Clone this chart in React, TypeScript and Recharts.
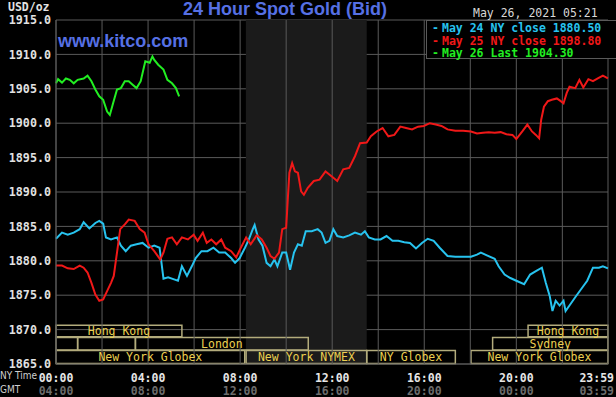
import React from "react";
import {
  LineChart,
  Line,
  XAxis,
  YAxis,
  CartesianGrid,
  ReferenceLine,
  ReferenceArea,
} from "recharts";

// Hours since NY midnight, prices
const may24Hours = [
  0, 0.26, 0.51, 0.77, 1.03, 1.2, 1.45, 1.71, 1.88, 2.05, 2.17, 2.39, 2.65, 2.82, 3.03, 3.25, 3.5,
  3.76, 4.02, 4.27, 4.5, 4.67, 4.87, 5.13, 5.3, 5.47, 5.69, 5.9, 6.07, 6.32, 6.58, 6.84, 7.09,
  7.35, 7.61, 7.78, 7.98, 8.21, 8.38, 8.55, 8.63, 8.8, 8.97, 9.15, 9.32, 9.49, 9.62, 9.83, 10.0,
  10.17, 10.34, 10.51, 10.68, 10.85, 11.11, 11.37, 11.54, 11.71, 11.88, 12.05, 12.22, 12.48,
  12.74, 12.99, 13.25, 13.42, 13.59, 13.85, 14.1, 14.36, 14.62, 14.87, 15.13, 15.38, 15.64,
  15.9, 16.15, 16.41, 16.67, 17.01, 17.35, 17.69, 18.03, 18.29, 18.46, 18.72, 19.06, 19.23,
  19.49, 19.74, 20.0, 20.34, 20.6, 20.85, 21.11, 21.28, 21.45, 21.57, 21.71, 21.88, 22.05,
  22.14, 22.31, 22.56, 22.82, 23.08, 23.33, 23.59, 23.76, 23.98,
];
const may24Prices = [
  1883.2, 1884.1, 1883.8, 1884.1, 1884.6, 1885.6, 1884.7, 1885.5, 1885.8, 1885.4, 1883.4, 1883.1,
  1883.4, 1882.2, 1881.4, 1882.2, 1882.4, 1882.6, 1881.9, 1882.2, 1881.9, 1877.4, 1877.6, 1877.3,
  1877.1, 1879.2, 1877.8, 1879.2, 1880.4, 1881.4, 1881.4, 1881.9, 1881.2, 1881.2, 1880.4, 1879.7,
  1880.4, 1881.9, 1883.1, 1884.6, 1885.2, 1883.1, 1882.2, 1879.7, 1879.2, 1880.2, 1879.2, 1881.2,
  1881.2, 1878.7, 1881.2, 1882.4, 1882.2, 1884.3, 1884.3, 1884.6, 1884.1, 1882.6, 1882.9, 1884.6,
  1883.6, 1883.4, 1883.7, 1884.1, 1883.8, 1884.3, 1883.4, 1883.1, 1883.1, 1883.6, 1882.9, 1882.9,
  1882.7, 1882.6, 1881.8, 1882.6, 1883.2, 1882.9, 1881.9, 1880.7, 1880.6, 1880.6, 1880.6, 1880.9,
  1881.2, 1880.8, 1880.3, 1879.2, 1878.0, 1877.5, 1877.1, 1876.6, 1878.0, 1878.5, 1879.0, 1876.8,
  1874.9, 1872.7, 1874.2, 1873.5, 1874.2, 1872.7, 1873.5, 1874.7, 1875.9, 1877.1, 1879.0, 1879.0,
  1879.2, 1878.9,
];

const may25Hours = [
  0, 0.26, 0.51, 0.77, 1.03, 1.2, 1.37, 1.54, 1.71, 1.88, 2.05, 2.22, 2.39, 2.51, 2.65, 2.79,
  2.99, 3.16, 3.42, 3.64, 3.85, 4.02, 4.27, 4.53, 4.67, 4.84, 5.04, 5.25, 5.47, 5.73, 5.98, 6.15,
  6.38, 6.55, 6.75, 6.96, 7.18, 7.35, 7.61, 7.83, 8.03, 8.26, 8.46, 8.72, 8.94, 9.15, 9.32, 9.49,
  9.69, 9.83, 10.0, 10.07, 10.14, 10.26, 10.38, 10.51, 10.65, 10.77, 10.94, 11.2, 11.45, 11.71,
  11.97, 12.22, 12.48, 12.74, 12.99, 13.21, 13.5, 13.68, 13.93, 14.19, 14.44, 14.7, 14.96, 15.21,
  15.47, 15.73, 15.98, 16.24, 16.5, 16.75, 17.01, 17.35, 17.69, 18.03, 18.29, 18.55, 18.8, 19.06,
  19.32, 19.57, 19.83, 20.0, 20.26, 20.48, 20.68, 20.85, 20.99, 21.08, 21.2, 21.37, 21.54, 21.76,
  21.93, 22.05, 22.19, 22.31, 22.56, 22.74, 22.91, 23.13, 23.33, 23.54, 23.76, 23.98,
];
const may25Prices = [
  1879.3, 1879.3, 1878.9, 1878.8, 1879.3, 1879.0, 1878.3, 1876.8, 1875.1, 1874.2, 1874.4, 1875.6,
  1876.8, 1877.8, 1881.2, 1884.6, 1885.3, 1886.0, 1885.8, 1884.6, 1884.1, 1882.4, 1881.4, 1880.2,
  1881.2, 1883.2, 1883.4, 1882.4, 1883.4, 1883.1, 1883.8, 1882.9, 1884.1, 1882.6, 1883.1, 1882.4,
  1883.1, 1881.9, 1881.4, 1880.5, 1881.9, 1883.4, 1882.4, 1883.7, 1883.1, 1881.9, 1880.7, 1880.3,
  1881.2, 1884.6, 1884.8, 1888.9, 1892.8, 1894.2, 1893.0, 1892.8, 1890.1, 1889.6, 1890.6, 1891.6,
  1891.8, 1893.0, 1892.3, 1891.6, 1893.3, 1893.5, 1895.2, 1897.1, 1897.2, 1898.1, 1898.8, 1899.3,
  1898.1, 1898.3, 1899.5, 1899.3, 1899.1, 1899.5, 1899.6, 1900.0, 1899.8, 1899.6, 1899.1, 1898.9,
  1898.9, 1898.8, 1898.5, 1898.6, 1898.7, 1898.6, 1898.7, 1898.4, 1898.3, 1897.7, 1898.8, 1899.8,
  1898.8, 1898.3, 1897.8, 1900.5, 1902.4, 1903.2, 1903.4, 1903.6, 1903.2, 1902.9, 1904.4, 1905.3,
  1905.1, 1906.3, 1905.2, 1906.4, 1906.1, 1906.5, 1906.9, 1906.5,
];

const may26Hours = [
  0, 0.09, 0.26, 0.43, 0.6, 0.77, 0.94, 1.2, 1.37, 1.54, 1.71, 1.88, 2.05, 2.22, 2.34, 2.48, 2.65,
  2.82, 2.99, 3.16, 3.33, 3.5, 3.68, 3.88, 4.07, 4.19, 4.27, 4.44, 4.67, 4.84, 5.04, 5.21, 5.35,
];
const may26Prices = [
  1905.8, 1906.4, 1905.9, 1906.5, 1906.3, 1905.8, 1906.3, 1906.5, 1906.9, 1906.1, 1904.9, 1903.9,
  1903.4, 1901.7, 1901.2, 1902.9, 1904.9, 1905.1, 1906.1, 1906.1, 1905.6, 1905.1, 1906.1, 1909.0,
  1908.8, 1909.7, 1909.2, 1908.5, 1907.8, 1906.3, 1905.8, 1905.1, 1903.9,
];

const priceTicks = [1865, 1870, 1875, 1880, 1885, 1890, 1895, 1900, 1905, 1910, 1915];
const timeTicks = [0, 4, 8, 12, 16, 20, 23.983];
const nyTimeLabels = ["00:00", "04:00", "08:00", "12:00", "16:00", "20:00", "23:59"];
const gmtTimeLabels = ["04:00", "08:00", "12:00", "16:00", "20:00", "00:00", "03:59"];
const gridHours = [0, 2, 4, 6, 8, 10, 12, 14, 16, 18, 20, 22, 23.983];

// NY pit session shading
const pitOpen = 8.25;
const pitClose = 13.5;

// Market sessions (hours, NY time) and the row they sit in
const sessionNames = [
  "Hong Kong", "Hong Kong",
  "", "", "London", "Sydney",
  "New York Globex", "New York NYMEX", "NY Globex", "New York Globex",
];
const sessionStarts = [0, 20.51, 0, 0.94, 3.45, 18.97, 0, 8.26, 13.5, 18.03];
const sessionEnds = [5.47, 23.98, 0.94, 3.45, 10.96, 23.98, 8.2, 13.5, 17.35, 23.98];
const sessionRows = [0, 0, 1, 1, 1, 1, 2, 2, 2, 2];

const legendLabels = ["May 24 NY close 1880.50", "May 25 NY close 1898.80", "May 26 Last 1904.30"];

const MONO = "'DejaVu Sans Mono', 'Liberation Mono', monospace";
const SANS = "'Liberation Sans', Arial, sans-serif";
const NARROW = "'DejaVu Sans Condensed', 'DejaVu Sans', sans-serif";
const C24 = "#27c3ef";
const C25 = "#f01818";
const C26 = "#22ee22";
const GRID = "#5a5a5a";
const GOLD = "#ecd050";
const BOX = "#b3ac7c";
const TITLE_BLUE = "#5670e4";

const ROW_BANDS: [number, number][] = [
  [1868.95, 1870.65],
  [1867.05, 1868.85],
  [1865.08, 1866.95],
];

const toRows = (hours: number[], prices: number[]) =>
  hours.map((h, i) => ({ h, p: prices[i] }));

function TimeTick(props: any) {
  const { x, y, payload } = props;
  const i = timeTicks.indexOf(payload.value);
  const last = i === timeTicks.length - 1;
  const tx = last ? x + 6 : x;
  const anchor = last ? "end" : "middle";
  return (
    <g>
      <text x={tx} y={y + 16} textAnchor={anchor} fill="#e6e6e6" fontSize={11.5} fontWeight="bold" fontFamily={MONO}>
        {nyTimeLabels[i]}
      </text>
      <text x={tx} y={y + 29} textAnchor={anchor} fill="#6c6c6c" fontSize={11.5} fontWeight="bold" fontFamily={MONO}>
        {gmtTimeLabels[i]}
      </text>
    </g>
  );
}

export default function App() {
  const d24 = toRows(may24Hours, may24Prices);
  const d25 = toRows(may25Hours, may25Prices);
  const d26 = toRows(may26Hours, may26Prices);
  const colors = [C24, C25, C26];

  return (
    <div style={{ position: "absolute", left: 0, top: 0, width: 616, height: 397, background: "#000", overflow: "hidden" }}>
      <LineChart width={616} height={397} margin={{ top: 20, right: 8, left: 0, bottom: 0 }}>
        <ReferenceArea x1={pitOpen} x2={pitClose} y1={1865} y2={1915} fill="#1b1b1b" fillOpacity={1} stroke="none" />
        <CartesianGrid vertical={false} stroke={GRID} strokeWidth={1} />
        {gridHours.map((h) => (
          <ReferenceLine key={h} x={h} stroke={GRID} strokeWidth={1} />
        ))}
        <XAxis
          dataKey="h"
          type="number"
          domain={[0, 23.983]}
          ticks={timeTicks}
          allowDuplicatedCategory={false}
          height={33}
          axisLine={{ stroke: GRID }}
          tickLine={false}
          tickSize={0}
          tick={<TimeTick />}
          interval={0}
        />
        <YAxis
          type="number"
          domain={[1865, 1915]}
          ticks={priceTicks}
          width={56}
          axisLine={{ stroke: GRID }}
          tickLine={false}
          tickSize={0}
          tickMargin={5}
          interval={0}
          tick={{ fill: "#e2e2e2", fontSize: 11.7, fontFamily: MONO, fontWeight: "bold" }}
          tickFormatter={(v: number) => v.toFixed(1)}
        />
        {sessionNames.map((name, i) => {
          const [y1, y2] = ROW_BANDS[sessionRows[i]];
          return (
            <ReferenceArea
              key={i}
              x1={sessionStarts[i]}
              x2={sessionEnds[i]}
              y1={y1}
              y2={y2}
              fill="#000"
              fillOpacity={0}
              stroke={BOX}
              strokeWidth={1.5}
              label={{ value: name, position: "center", fill: GOLD, fontSize: 11.5, fontFamily: MONO }}
            />
          );
        })}
        <Line data={d24} dataKey="p" stroke={C24} strokeWidth={2} dot={false} type="linear" isAnimationActive={false} />
        <Line data={d25} dataKey="p" stroke={C25} strokeWidth={2} dot={false} type="linear" isAnimationActive={false} />
        <Line data={d26} dataKey="p" stroke={C26} strokeWidth={2} dot={false} type="linear" isAnimationActive={false} />
      </LineChart>

      {/* header texts */}
      <div style={{ position: "absolute", left: 8, top: 0, fontFamily: MONO, fontSize: 11.5, fontWeight: "bold", color: "#e2e2e2" }}>
        USD/oz
      </div>
      <div style={{ position: "absolute", left: 0, width: 570, top: 0, lineHeight: "18px", textAlign: "center", fontFamily: SANS, fontSize: 18, fontWeight: "bold", color: TITLE_BLUE }}>
        24 Hour Spot Gold (Bid)
      </div>
      <div style={{ position: "absolute", left: 58, top: 31, fontFamily: SANS, fontSize: 18, fontWeight: "bold", color: TITLE_BLUE }}>
        www.kitco.com
      </div>
      <div style={{ position: "absolute", left: 473, top: 6, fontFamily: MONO, fontSize: 11.5, color: "#d8d8d8" }}>
        May 26, 2021 05:21
      </div>

      {/* legend */}
      <div
        style={{
          position: "absolute",
          left: 426,
          top: 20,
          width: 190,
          height: 39,
          background: "#000",
          borderLeft: `1px solid ${GRID}`,
          borderTop: `1px solid ${GRID}`,
          borderBottom: `1px solid ${GRID}`,
          boxSizing: "border-box",
          paddingTop: 1,
        }}
      >
        {legendLabels.map((t, i) => (
          <div key={t} style={{ fontFamily: MONO, fontSize: 11.5, fontWeight: "bold", color: colors[i], height: 12.6, lineHeight: "12.6px", whiteSpace: "pre" }}>
            <span style={{ display: "inline-block", width: 15, paddingLeft: 5, boxSizing: "border-box" }}>-</span>
            {t}
          </div>
        ))}
      </div>

      {/* axis captions */}
      <div style={{ position: "absolute", left: 0, top: 370, lineHeight: "12px", fontFamily: NARROW, fontSize: 10, color: "#cfcfcf", whiteSpace: "nowrap" }}>
        NY Time
      </div>
      <div style={{ position: "absolute", left: 0, top: 384, lineHeight: "12px", fontFamily: NARROW, fontSize: 10, color: "#cfcfcf" }}>
        GMT
      </div>
    </div>
  );
}
